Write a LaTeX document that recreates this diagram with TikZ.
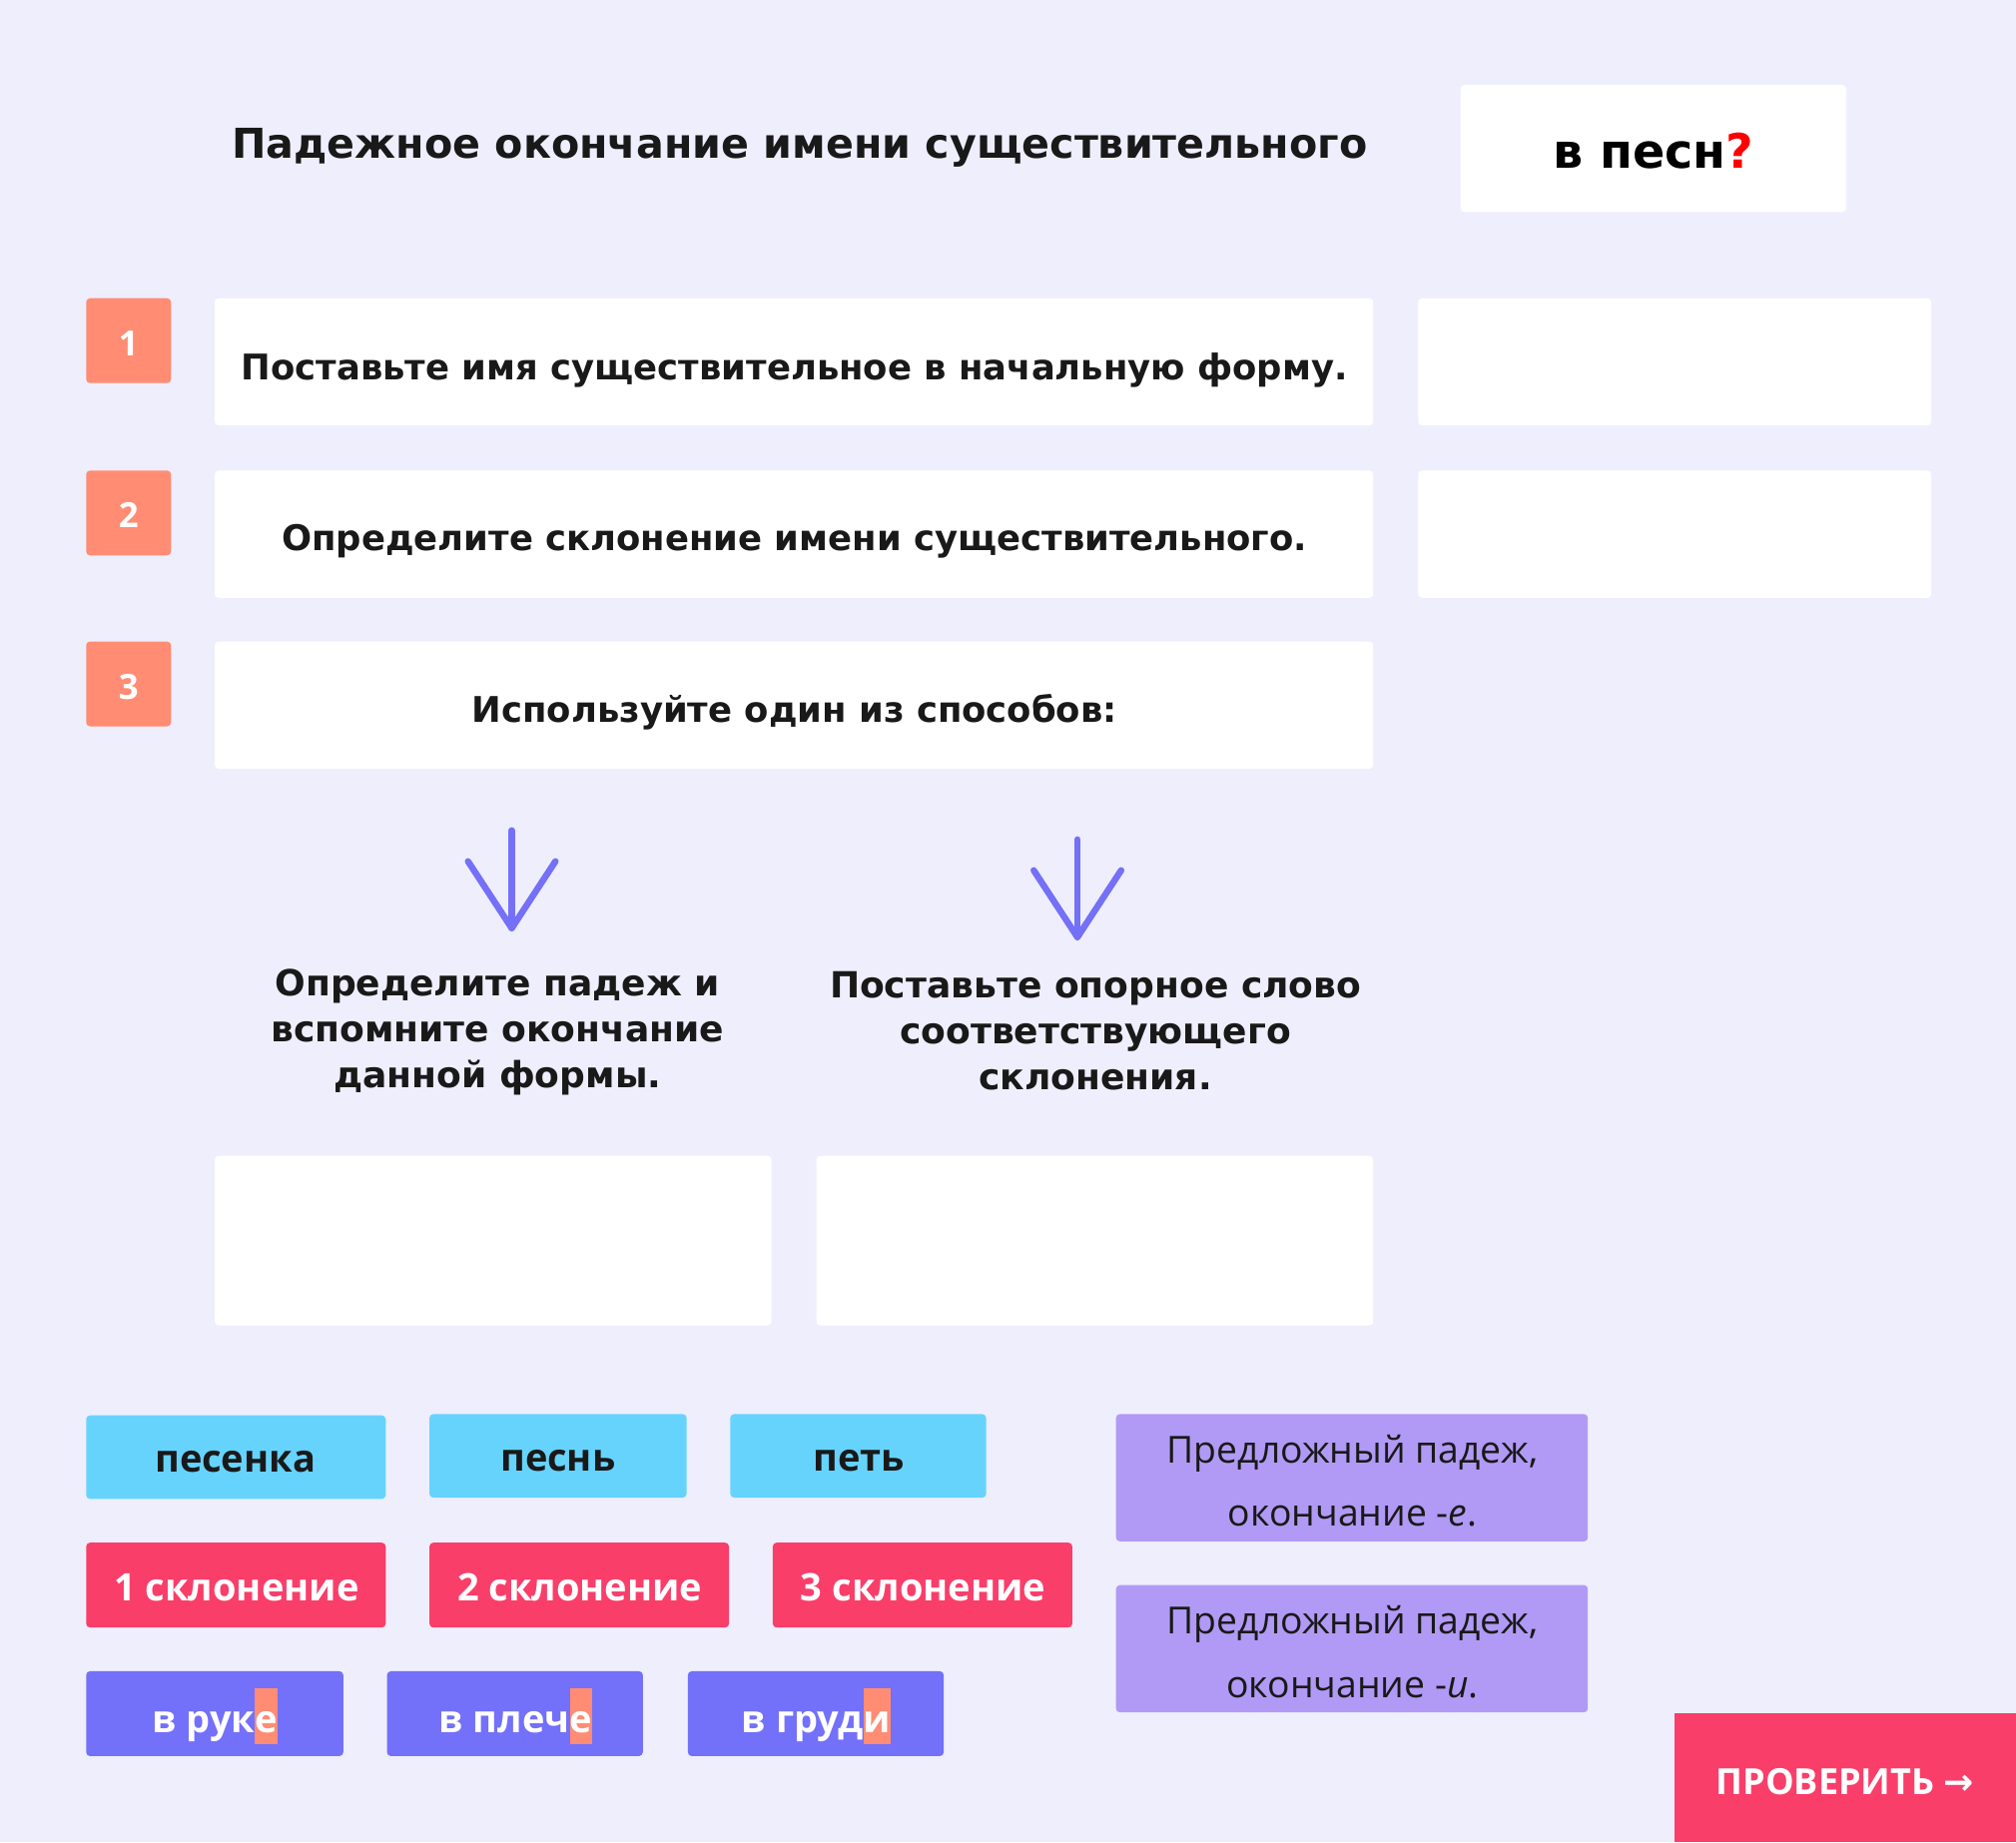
\documentclass[tikz,border=0pt]{standalone}
\usepackage{fontspec}
\setmainfont{DejaVu Sans}
\newfontfamily\chipfont{Open Sans}
\newfontfamily\arrfont{DejaVu Sans}
\usetikzlibrary{arrows.meta}
\definecolor{bg}{HTML}{EFEEFD}
\definecolor{salmon}{HTML}{FF8C73}
\definecolor{cyanc}{HTML}{66D3FD}
\definecolor{redc}{HTML}{F93E6A}
\definecolor{bluec}{HTML}{7370FA}
\definecolor{purc}{HTML}{B19AF5}
\definecolor{arr}{HTML}{7470F7}
\newcommand{\hl}[1]{{\setlength\fboxsep{0pt}\colorbox{salmon}{\rule[-9pt]{0pt}{44pt}#1}}}
\tikzset{
  wbox/.style={fill=white,rounded corners=3pt},
  numbox/.style={fill=salmon,rounded corners=3pt},
  chip/.style={rounded corners=3pt},
  head/.style={font=\fontsize{27.5}{33}\selectfont\bfseries,text=black!90},
  ctext/.style={font=\chipfont\fontsize{29.5}{36}\selectfont\bfseries},
  arrowline/.style={draw=arr,line width=5pt,line cap=round,line join=round}
}
\begin{document}
\begin{tikzpicture}[x=1pt,y=-1pt]
\useasboundingbox (0,0) rectangle (1568,1433);
\fill[bg] (0,0) rectangle (1568,1433);
\node[head,font=\fontsize{32}{36}\selectfont\bfseries] (title) at (622,115) {Падежное окончание имени существительного};
\fill[wbox] (1136,66) rectangle (1436,165);
\node[font=\fontsize{37}{44}\selectfont\bfseries] (word) at (1286,117) {в песн\textcolor{red}{?}};
\foreach \y/\n in {232/1,366/2,499/3}{
  \fill[numbox] (67,\y) rectangle (133,\y+66);
  \node[text=white,font=\chipfont\fontsize{27}{30}\selectfont\bfseries] (n\n) at (100,\y+35) {\n};
  \fill[wbox] (167,\y) rectangle (1068,\y+99);
}
\fill[wbox] (1103,232) rectangle (1502,331);
\fill[wbox] (1103,366) rectangle (1502,465);
\node[head] (s1) at (618,288) {Поставьте имя существительное в начальную форму.};
\node[head] (s2) at (618,421) {Определите склонение имени существительного.};
\node[head] (s3) at (618,554) {Используйте один из способов:};
\coordinate (a1s) at (398,646); \coordinate (a1e) at (398,722);
\coordinate (a2s) at (838,653); \coordinate (a2e) at (838,729);
\draw[arrowline] (a1s) -- (a1e);
\draw[arrowline] (364,670) -- (a1e) -- (432,670);
\draw[arrowline] (a2s) -- (a2e);
\draw[arrowline] (804,677) -- (a2e) -- (872,677);
\node[head,align=center,font=\fontsize{28}{36}\selectfont\bfseries] (m1) at (387,803) {Определите падеж и\\вспомните окончание\\данной формы.};
\node[head,align=center,font=\fontsize{28}{36}\selectfont\bfseries] (m2) at (852,802) {Поставьте опорное слово\\соответствующего\\склонения.};
\fill[wbox] (167,899) rectangle (600,1031);
\fill[wbox] (635,899) rectangle (1068,1031);
% cyan chips
\fill[chip,cyanc] (67,1101) rectangle (300,1166);
\node[ctext,text=black!90] (c1) at (183,1137) {песенка};
\fill[chip,cyanc] (334,1100) rectangle (534,1165);
\node[ctext,text=black!90] (c2) at (434,1136) {песнь};
\fill[chip,cyanc] (568,1100) rectangle (767,1165);
\node[ctext,text=black!90] (c3) at (668,1136) {петь};
% red chips
\fill[chip,redc] (67,1200) rectangle (300,1266);
\node[ctext,text=white] (r1) at (184,1235) {1 склонение};
\fill[chip,redc] (334,1200) rectangle (567,1266);
\node[ctext,text=white] (r2) at (451,1235) {2 склонение};
\fill[chip,redc] (601,1200) rectangle (834,1266);
\node[ctext,text=white] (r3) at (718,1235) {3 склонение};
% blue chips
\fill[chip,bluec] (67,1300) rectangle (267,1366);
\node[ctext,text=white] (b1) at (167,1335) {в рук\hl{е}};
\fill[chip,bluec] (301,1300) rectangle (500,1366);
\node[ctext,text=white] (b2) at (401,1335) {в плеч\hl{е}};
\fill[chip,bluec] (535,1300) rectangle (734,1366);
\node[ctext,text=white] (b3) at (635,1335) {в груд\hl{и}};
% purple
\fill[chip,purc] (868,1100) rectangle (1235,1199);
\node[font=\chipfont\fontsize{29}{49}\selectfont,align=center,text=black!90] (p1) at (1052,1152) {Предложный падеж,\\окончание -\textit{е}.};
\fill[chip,purc] (868,1233) rectangle (1235,1332);
\node[font=\chipfont\fontsize{29}{49}\selectfont,align=center,text=black!90] (p2) at (1052,1285) {Предложный падеж,\\окончание -\textit{и}.};
% button
\fill[redc] (1302,1333) rectangle (1568,1433);
\node[text=white,font=\chipfont\fontsize{28}{34}\selectfont\bfseries] (btn) at (1435,1386) {ПРОВЕРИТЬ {\arrfont →}};
\end{tikzpicture}
\end{document}
